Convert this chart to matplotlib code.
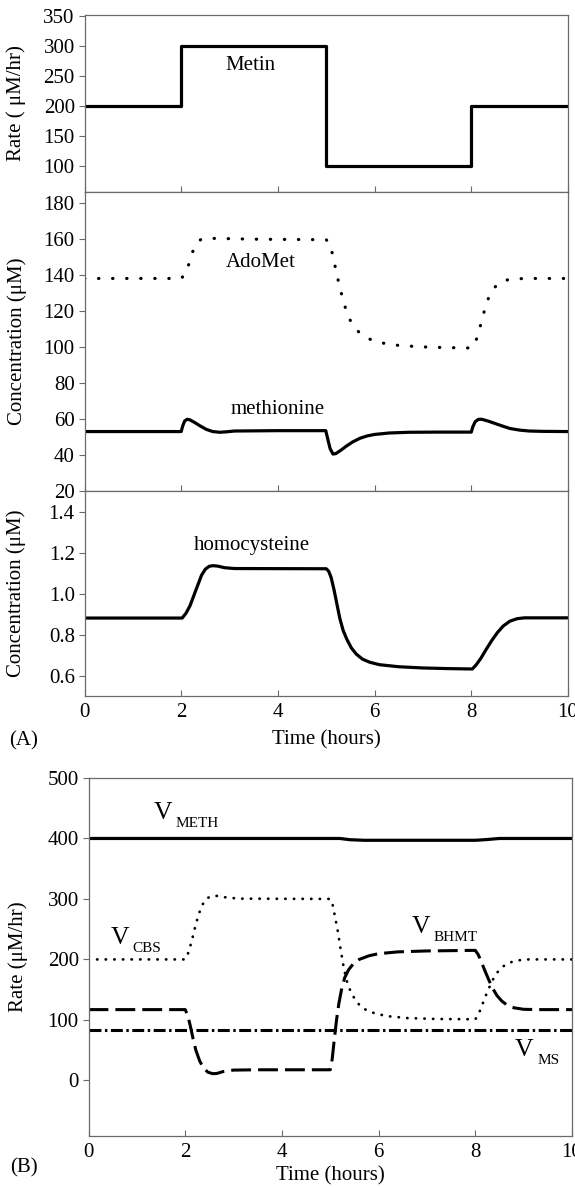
import matplotlib
matplotlib.use('Agg')
import matplotlib.pyplot as plt
from matplotlib.ticker import FormatStrFormatter

plt.rcParams['font.family'] = ['Liberation Serif', 'DejaVu Serif']

# ---------------- data ----------------
time_ticks = [0, 2, 4, 6, 8, 10]

# Panel A, top: methionine input rate (step)
metin_t = [0, 2, 5, 8, 10]
metin_v = [200, 300, 100, 200, 200]

# Panel A, middle: AdoMet (dotted) and methionine (solid)
adomet_t = [0, 2.0, 2.1, 2.17, 2.24, 2.31, 2.4, 2.5, 2.8, 3.5, 5.0, 5.08, 5.15, 5.22, 5.3,
            5.38, 5.47, 5.58, 5.7, 5.9, 6.15, 6.5, 7.0, 7.5, 8.0, 8.06, 8.13, 8.2, 8.28,
            8.36, 8.45, 8.55, 8.7, 8.9, 9.2, 10]
adomet_v = [138, 138, 141, 147, 153, 157, 159.5, 160.3, 160.2, 159.8, 159.5, 157, 149, 140, 131,
            123, 116, 111, 107.5, 104.3, 102.2, 100.8, 100, 99.6, 99.4, 101, 106, 113, 121,
            127.5, 132, 135, 137, 137.8, 138, 138]

met_t = [0, 2.0, 2.03, 2.07, 2.12, 2.18, 2.28, 2.4, 2.52, 2.65, 2.8, 2.95, 3.1, 4.0, 4.99,
         5.03, 5.08, 5.14, 5.2, 5.3, 5.42, 5.55, 5.7, 5.85, 6.0, 6.3, 6.7, 7.3, 8.0, 8.03,
         8.08, 8.15, 8.22, 8.35, 8.5, 8.65, 8.8, 9.0, 9.2, 9.5, 10]
met_v = [53, 53, 56, 58.8, 59.8, 59.5, 58, 56, 54.2, 53, 52.6, 52.9, 53.3, 53.5, 53.5,
         49, 43.5, 40.5, 40.8, 42.6, 45, 47.3, 49.3, 50.6, 51.4, 52.2, 52.6, 52.7, 52.7, 55.5,
         58.5, 59.8, 59.8, 58.8, 57.4, 56, 54.7, 53.8, 53.3, 53.1, 53]

# Panel A, bottom: homocysteine
hcy_t = [0, 2.02, 2.1, 2.18, 2.26, 2.34, 2.42, 2.5, 2.58, 2.66, 2.75, 2.9, 3.1, 5.0, 5.05,
         5.1, 5.16, 5.22, 5.28, 5.35, 5.43, 5.52, 5.62, 5.75, 5.9, 6.1, 6.5, 7.0, 7.5, 8.02,
         8.1, 8.2, 8.3, 8.42, 8.54, 8.66, 8.8, 8.95, 9.1, 10]
hcy_v = [0.881, 0.881, 0.905, 0.94, 0.99, 1.04, 1.09, 1.12, 1.134, 1.137, 1.135, 1.127, 1.123,
         1.122, 1.11, 1.08, 1.02, 0.95, 0.88, 0.82, 0.775, 0.735, 0.705, 0.68, 0.665, 0.653,
         0.643, 0.637, 0.634, 0.632, 0.652, 0.685, 0.725, 0.77, 0.81, 0.842, 0.866, 0.878,
         0.882, 0.882]

# Panel B: fluxes
vmeth_t = [0, 5.2, 5.4, 5.7, 8.0, 8.2, 8.5, 10]
vmeth_v = [400, 400, 398, 397, 397, 398, 400, 400]

vcbs_t = [0, 2.0, 2.07, 2.14, 2.21, 2.28, 2.36, 2.45, 2.55, 2.65, 2.8, 3.1, 5.0, 5.05, 5.1,
          5.16, 5.22, 5.28, 5.35, 5.43, 5.52, 5.62, 5.75, 5.95, 6.2, 6.6, 7.2, 8.0, 8.06,
          8.13, 8.2, 8.28, 8.36, 8.45, 8.55, 8.68, 8.85, 9.05, 10]
vcbs_v = [200, 200, 212, 232, 255, 275, 291, 301, 305, 305, 303, 300.5, 300, 290, 270,
          245, 214, 186, 162, 145, 133, 123, 116, 110, 106, 103, 101.5, 101, 108,
          122, 137, 152, 166, 178, 187, 194, 198, 200, 200]

vbhmt_t = [0, 2.0, 2.05, 2.1, 2.16, 2.22, 2.3, 2.38, 2.47, 2.57, 2.66, 2.78, 3.0, 3.5, 5.0,
           5.04, 5.08, 5.13, 5.18, 5.24, 5.3, 5.38, 5.48, 5.6, 5.8, 6.0, 6.4, 7.0, 8.0,
           8.06, 8.13, 8.2, 8.28, 8.36, 8.45, 8.55, 8.65, 8.8, 9.0, 9.3, 10]
vbhmt_v = [117, 117, 108, 92, 70, 50, 32, 20, 13.5, 11, 11.5, 14.5, 17, 17.5, 17.5,
           35, 65, 100, 128, 153, 170, 183, 193, 200, 206, 209.5, 212.5, 214, 215,
           208, 195, 181, 166, 152, 140, 131, 125, 120, 117.5, 117, 117]

vms_t = [0, 10]
vms_v = [84, 84]

# ---------------- layout ----------------
W, H = 575, 1187


def frac(x0, x1, ytop, ybot):
    return [x0 / W, 1 - ybot / H, (x1 - x0) / W, (ybot - ytop) / H]


fig = plt.figure(figsize=(W / 100, H / 100), dpi=100)
ax1 = fig.add_axes(frac(84.5, 568, 15, 192))
ax2 = fig.add_axes(frac(84.5, 568, 192, 491))
ax3 = fig.add_axes(frac(84.5, 568, 491, 696))
ax4 = fig.add_axes(frac(88.5, 572, 778, 1136))

FS = 15
SPC = '#6a6a6a'


def style(ax):
    for s in ax.spines.values():
        s.set_color(SPC)
        s.set_linewidth(0.9)
    ax.set_xlim(0, 10)
    ax.set_xticks(time_ticks)
    ax.tick_params(axis='x', direction='in', length=4, width=0.8, color=SPC,
                   labelsize=FS, pad=5)
    ax.tick_params(axis='y', direction='out', length=4, width=0.8, color=SPC,
                   labelsize=FS, pad=3)


for ax in (ax1, ax2, ax3, ax4):
    style(ax)

LW = 2.3

# top panel
ax1.plot(metin_t, metin_v, color='k', lw=LW, drawstyle='steps-post')
ax1.set_ylim(57, 351)
ax1.set_yticks([100, 150, 200, 250, 300, 350])
ax1.tick_params(labelbottom=False)
ax1.set_ylabel('Rate ( \u03bcM/hr)', fontsize=FS)
ax1.yaxis.set_label_coords(-0.121, 0.5)
ax1.text(3.43, 267, 'Metin', fontsize=FS, ha='center', va='center')

# middle panel
ax2.plot(adomet_t, adomet_v, color='k', lw=LW, linestyle=(0, (0.1, 4.3)),
         dash_capstyle='round')
ax2.plot(met_t, met_v, color='k', lw=LW)
ax2.set_ylim(20, 186)
ax2.set_yticks(list(range(20, 181, 20)))
ax2.tick_params(labelbottom=False)
ax2.set_ylabel('Concentration (\u03bcM)', fontsize=FS)
ax2.yaxis.set_label_coords(-0.118, 0.5)
ax2.text(3.64, 147, 'AdoMet', fontsize=FS, ha='center', va='center')
ax2.text(3.99, 65, 'methionine', fontsize=FS, ha='center', va='center')

# bottom panel A
ax3.plot(hcy_t, hcy_v, color='k', lw=LW)
ax3.set_ylim(0.5, 1.502)
ax3.set_yticks([0.6, 0.8, 1.0, 1.2, 1.4])
ax3.yaxis.set_major_formatter(FormatStrFormatter('%.1f'))
ax3.set_ylabel('Concentration (\u03bcM)', fontsize=FS)
ax3.yaxis.set_label_coords(-0.122, 0.5)
ax3.text(3.47, 1.237, 'homocysteine', fontsize=FS, ha='center', va='center')
ax3.set_xlabel('Time (hours)', fontsize=FS)
ax3.xaxis.label.set_va('center')
ax3.xaxis.set_label_coords(0.5, -0.215)

# panel B
ax4.plot(vmeth_t, vmeth_v, color='k', lw=LW)
ax4.plot(vcbs_t, vcbs_v, color='k', lw=2.0, linestyle=(0, (0.1, 3.0)),
         dash_capstyle='round')
ax4.plot(vbhmt_t, vbhmt_v, color='k', lw=2.2, linestyle=(0, (6.5, 2.3)))
ax4.plot(vms_t, vms_v, color='k', lw=2.2, linestyle=(0, (3.9, 1.15, 0.8, 1.15)))
ax4.set_ylim(-92, 500)
ax4.set_yticks([0, 100, 200, 300, 400, 500])
ax4.set_ylabel('Rate (\u03bcM/hr)', fontsize=FS)
ax4.yaxis.set_label_coords(-0.126, 0.5)
ax4.set_xlabel('Time (hours)', fontsize=FS)
ax4.xaxis.label.set_va('center')
ax4.xaxis.set_label_coords(0.5, -0.111)


def vlabel(ax, t, v, sub):
    vt = ax.text(t, v, 'V', fontsize=18.5, ha='left', va='baseline')
    ax.annotate(sub, xy=(1, 0), xycoords=vt, xytext=(2.5, -2),
                textcoords='offset points', fontsize=11, ha='left', va='baseline')


vlabel(ax4, 1.34, 432, 'METH')
vlabel(ax4, 0.46, 225, 'CBS')
vlabel(ax4, 6.68, 244, 'BHMT')
vlabel(ax4, 8.82, 40, 'MS')

fig.text(24 / W, 1 - 741 / H, '(A)', fontsize=FS, ha='center', va='center')
fig.text(24 / W, 1 - 1168 / H, '(B)', fontsize=FS, ha='center', va='center')

fig.savefig('out.png', dpi=100)
